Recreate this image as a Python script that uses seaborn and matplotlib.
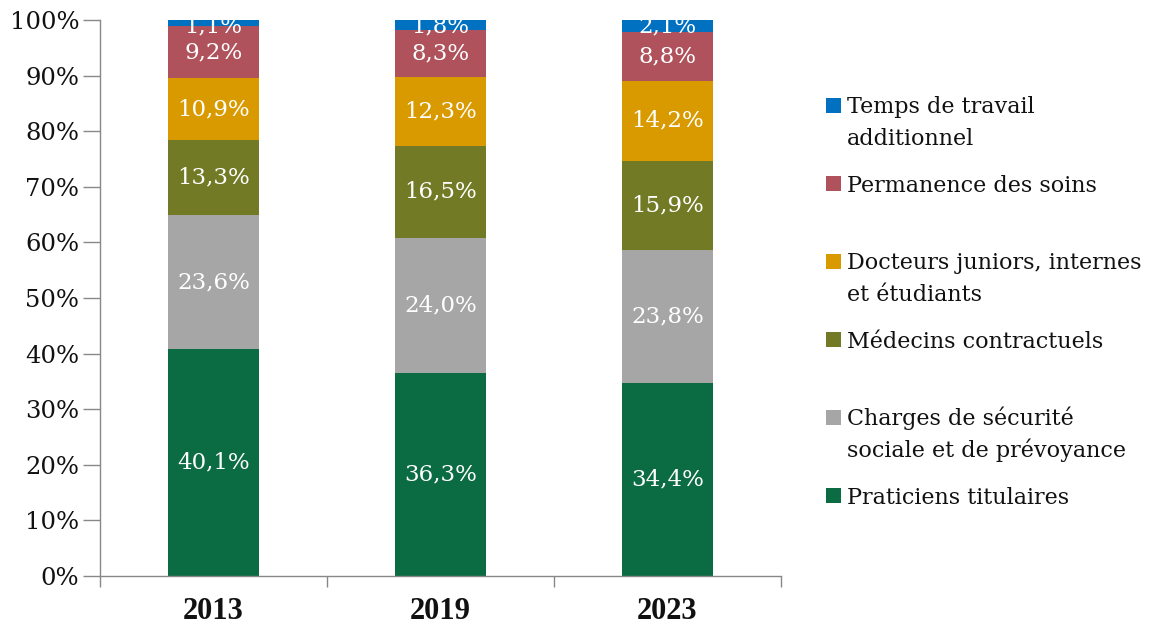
import numpy as np
import pandas as pd
import matplotlib
matplotlib.use("Agg")
import matplotlib.pyplot as plt
from matplotlib.patches import Rectangle
from matplotlib.ticker import FixedLocator
import seaborn as sns

years = ["2013", "2019", "2023"]
series = ["Praticiens titulaires",
          "Charges de sécurité\nsociale et de prévoyance",
          "Médecins contractuels",
          "Docteurs juniors, internes\net étudiants",
          "Permanence des soins",
          "Temps de travail\nadditionnel"]
praticiens = [40.1, 36.3, 34.4]
charges = [23.6, 24.0, 23.8]
contractuels = [13.3, 16.5, 15.9]
docteurs = [10.9, 12.3, 14.2]
permanence = [9.2, 8.3, 8.8]
temps = [1.1, 1.8, 2.1]
colors = ["#0B6B43", "#A6A6A6", "#727A25", "#D99A00", "#AF525B", "#0070C0"]

sns.set_theme(style="white")
plt.rcParams['font.family'] = ['DejaVu Serif', 'Liberation Serif']

values = np.array([praticiens, charges, contractuels, docteurs, permanence, temps])
shares = values / values.sum(axis=0) * 100

fig = plt.figure(figsize=(11.5, 6.24), dpi=100)
ax = fig.add_axes([100/1150, 1 - 576/624, 681/1150, 556/624])

bottom = np.zeros(len(years))
for i, name in enumerate(series):
    df = pd.DataFrame({"year": years, "share": shares[i]})
    sns.barplot(data=df, x="year", y="share", bottom=bottom, color=colors[i],
                width=0.405, saturation=1, ax=ax, order=years, linewidth=0)
    for j in range(len(years)):
        yc = bottom[j] + shares[i][j] / 2
        yc = min(yc, 98.9)
        txt = f"{values[i][j]:.1f}%".replace(".", ",")
        ax.text(j, yc, txt, ha="center", va="center", color="white", fontsize=16.5,
                clip_on=False)
    bottom = bottom + shares[i]

ax.set_xlim(-0.5, 2.5)
ax.set_ylim(0, 100)
ax.set_yticks(np.arange(0, 101, 10))
ax.set_yticklabels([f"{v}%" for v in range(0, 101, 10)], fontsize=17.5, color="#111111")
ax.set_xlabel("")
ax.set_ylabel("")
ax.tick_params(axis="y", direction="out", length=12, width=1, color="#888888", pad=3, left=True)
ax.set_xticks([0, 1, 2])
ax.set_xticklabels(years, fontsize=22, fontweight="bold", color="#111111",
                   family="Liberation Serif")
ax.tick_params(axis="x", which="major", length=0, pad=15)
ax.xaxis.set_minor_locator(FixedLocator([-0.5, 0.5, 1.5, 2.5]))
ax.tick_params(axis="x", which="minor", direction="out", length=8, width=1, color="#888888", bottom=True)
for s in ["top", "right"]:
    ax.spines[s].set_visible(False)
for s in ["left", "bottom"]:
    ax.spines[s].set_color("#888888")
    ax.spines[s].set_linewidth(1)

# legend (Excel-like layout)
leg_order = list(range(len(series)))[::-1]
y0 = 105.5
for k, i in enumerate(leg_order):
    yc = y0 + 78 * k
    fig.patches.append(Rectangle((826/1150, 1 - (yc + 7.5)/624), 15/1150, 15/624,
                                 transform=fig.transFigure, facecolor=colors[i],
                                 edgecolor="none"))
    for m, line in enumerate(series[i].split("\n")):
        fig.text(847/1150, 1 - (yc + 8 + 32 * m)/624, line, ha="left", va="baseline",
                 fontsize=16, color="#111111")

fig.savefig("out.png", dpi=100)
